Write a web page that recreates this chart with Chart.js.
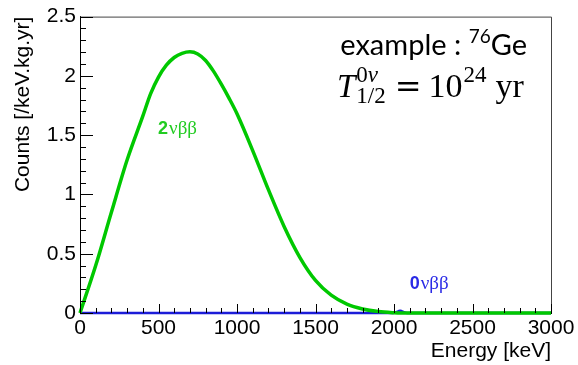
<!DOCTYPE html>
<html>
<head>
<meta charset="utf-8">
<script src="https://cdn.jsdelivr.net/npm/chart.js@4.4.1/dist/chart.umd.min.js"></script>
<style>
  html, body { margin: 0; padding: 0; background: #fff; }
  #wrap { width: 578px; height: 365px; }
</style>
</head>
<body>
<div id="wrap"><canvas id="spectrum"></canvas></div>
<script>
// 2vbb spectrum (energy in keV, counts per keV.kg.yr)
const energies2nu = [0, 100, 200, 300, 400, 450, 500, 550, 600, 650, 700, 750, 800, 850, 900,
                     950, 1000, 1100, 1200, 1300, 1400, 1500, 1600, 1700, 1800, 1900, 2000, 2039, 3000];
const counts2nu = [0, 0.40, 0.85, 1.29, 1.66, 1.85, 1.99, 2.09, 2.155, 2.19, 2.203, 2.185, 2.13, 2.04, 1.93,
                   1.81, 1.68, 1.37, 1.04, 0.73, 0.47, 0.275, 0.15, 0.075, 0.034, 0.012, 0.002, 0, 0];

// 0vbb line: flat, with a tiny peak at Q = 2039 keV
const energies0nu = [0, 1995, 2015, 2030, 2039, 2048, 2063, 2083, 3000];
const counts0nu = [0, 0, 0.006, 0.016, 0.02, 0.016, 0.006, 0, 0];

const xMajorTicks = [0, 500, 1000, 1500, 2000, 2500, 3000];
const yMajorTicks = [0, 0.5, 1, 1.5, 2, 2.5];

const GREEN = "#00c800";
const BLUE = "#1c1cd8";
const AXIS_FONT = "'Liberation Sans', Arial, sans-serif";

const toPoints = (xs, ys) => xs.map((x, i) => ({ x: x, y: ys[i] }));

// inward ticks, frame and the text annotations
const decorations = {
    id: "decorations",
    afterDraw(chart) {
        const { ctx, chartArea: area, scales: { x, y } } = chart;
        ctx.save();

        // top / right frame
        ctx.strokeStyle = "#444";
        ctx.lineWidth = 1;
        ctx.beginPath();
        ctx.moveTo(area.left, area.top + 0.5);
        ctx.lineTo(area.right + 0.5, area.top + 0.5);
        ctx.lineTo(area.right + 0.5, area.bottom);
        ctx.stroke();

        // ticks pointing into the plot
        ctx.strokeStyle = "#000";
        ctx.beginPath();
        for (let v = 0; v <= 3000; v += 100) {
            const px = Math.round(x.getPixelForValue(v)) + 0.5;
            const len = v % 500 === 0 ? 9 : 5;
            ctx.moveTo(px, area.bottom);
            ctx.lineTo(px, area.bottom - len);
        }
        for (let i = 0; i <= 25; i++) {
            const py = Math.round(y.getPixelForValue(i / 10)) + 0.5;
            const len = i % 5 === 0 ? 13 : 6;
            ctx.moveTo(area.left, py);
            ctx.lineTo(area.left + len, py);
        }
        ctx.stroke();

        // series labels
        ctx.textBaseline = "alphabetic";
        const tag = (digit, color, xv, yv) => {
            let px = x.getPixelForValue(xv);
            const py = y.getPixelForValue(yv);
            ctx.fillStyle = color;
            ctx.font = "bold 18px " + AXIS_FONT;
            ctx.fillText(digit, px, py);
            px += ctx.measureText(digit).width + 1;
            ctx.font = "19px 'Liberation Serif', serif";
            ctx.fillText("\u03bd\u03b2\u03b2", px, py);
        };
        tag("2", "#22cc22", 497, 1.51);
        tag("0", "#2a2ae6", 2100, 0.2);

        // isotope note
        const sans = "'Lato', 'Open Sans', sans-serif";
        const parts1 = [
            { t: "example : ", f: "29px " + sans, dy: 0 },
            { t: "76", f: "19px " + sans, dy: -12 },
            { t: "Ge", f: "29px " + sans, dy: 0 },
        ];
        let w = 0;
        parts1.forEach(p => { ctx.font = p.f; p.w = ctx.measureText(p.t).width; w += p.w; });
        let cx = 527 - w;
        ctx.fillStyle = "#000";
        parts1.forEach(p => { ctx.font = p.f; ctx.fillText(p.t, cx, 55 + p.dy); cx += p.w; });

        // T^{0nu}_{1/2} = 10^{24} yr
        const serif = "'Liberation Serif', 'DejaVu Serif', serif";
        const base = 97;
        cx = 337;
        ctx.font = "italic 33px " + serif;
        ctx.fillText("T", cx, base);
        cx += ctx.measureText("T").width + 1;
        ctx.font = "23px " + serif;
        ctx.fillText("0", cx, base - 15);
        let supW = ctx.measureText("0").width;
        ctx.font = "italic 23px " + serif;
        ctx.fillText("\u03bd", cx + supW, base - 15);
        supW += ctx.measureText("\u03bd").width;
        ctx.font = "23px " + serif;
        ctx.fillText("1/2", cx, base + 6);
        const subW = ctx.measureText("1/2").width;
        cx += Math.max(supW, subW) + 9;
        ctx.font = "32px 'DejaVu Serif', serif";
        ctx.fillText("=", cx, base);
        cx += ctx.measureText("=").width + 7;
        ctx.font = "34px " + serif;
        ctx.fillText("10", cx, base);
        cx += ctx.measureText("10").width + 1;
        ctx.font = "23px " + serif;
        ctx.fillText("24", cx, base - 15);
        cx += ctx.measureText("24").width + 9;
        ctx.font = "34px " + serif;
        ctx.fillText("yr", cx, base);

        ctx.restore();
    },
};

const plainNumber = v => String(Number(v.toFixed(2)));

new Chart(document.getElementById("spectrum").getContext("2d"), {
    type: "line",
    data: {
        datasets: [
            {
                label: "2vbb",
                data: toPoints(energies2nu, counts2nu),
                borderColor: GREEN,
                borderWidth: 3.5,
                pointRadius: 0,
                cubicInterpolationMode: "monotone",
                clip: false,
            },
            {
                label: "0vbb",
                data: toPoints(energies0nu, counts0nu),
                borderColor: BLUE,
                borderWidth: 2.5,
                pointRadius: 0,
                cubicInterpolationMode: "monotone",
                clip: false,
            },
        ],
    },
    options: {
        responsive: true,
        maintainAspectRatio: false,
        animation: false,
        events: [],
        layout: { padding: { left: 0, top: 13, right: 27, bottom: 0 } },
        plugins: { legend: { display: false }, tooltip: { enabled: false } },
        scales: {
            x: {
                type: "linear",
                min: 0,
                max: 3000,
                afterBuildTicks: scale => { scale.ticks = xMajorTicks.map(v => ({ value: v })); },
                ticks: { color: "#000", font: { family: AXIS_FONT, size: 21 }, padding: 3, maxRotation: 0, callback: plainNumber },
                grid: { display: false, drawTicks: false },
                border: { display: true, color: "#000", width: 1 },
                title: {
                    display: true,
                    text: "Energy [keV]",
                    align: "end",
                    color: "#000",
                    font: { family: AXIS_FONT, size: 21 },
                    padding: { top: 0, bottom: 1 },
                },
                afterFit: scale => { scale.height = 52; },
            },
            y: {
                type: "linear",
                min: 0,
                max: 2.5,
                afterBuildTicks: scale => { scale.ticks = yMajorTicks.map(v => ({ value: v })); },
                ticks: { color: "#000", font: { family: AXIS_FONT, size: 21 }, padding: 4, callback: plainNumber },
                grid: { display: false, drawTicks: false },
                border: { display: true, color: "#000", width: 1 },
                title: {
                    display: true,
                    text: "Counts [/keV.kg.yr]",
                    align: "end",
                    color: "#000",
                    font: { family: AXIS_FONT, size: 21 },
                    padding: { top: 11, bottom: 0 },
                },
                afterFit: scale => { scale.width = 80; },
            },
        },
    },
    plugins: [decorations],
});
</script>
</body>
</html>
